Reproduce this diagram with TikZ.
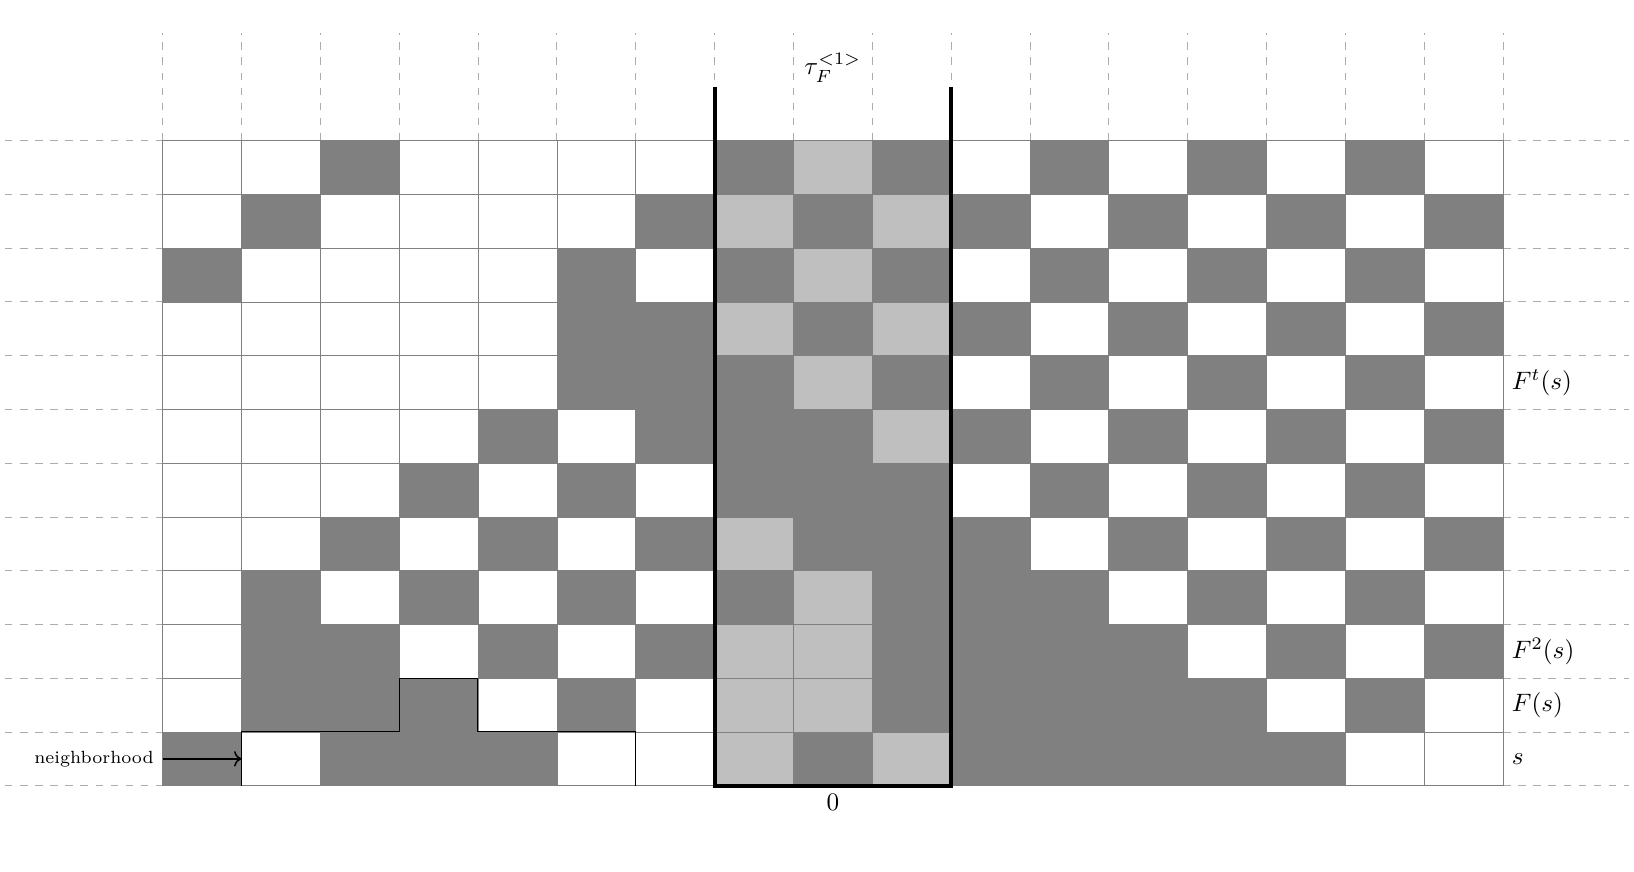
\documentclass[tikz,border=0pt]{standalone}
\usetikzlibrary{arrows.meta}
\colorlet{cell0}{white}
\colorlet{cell1}{gray}
\colorlet{cell2}{lightgray}
\tikzset{
  cellbox/.style={draw=gray, line width=0.25pt},
  guide/.style={draw=gray!65, dashed, line width=0.3pt},
  band/.style={black, line width=1.6pt},
  stair/.style={black, line width=0.4pt},
  lbl/.style={inner sep=3.33pt},
}
\begin{document}
\begin{tikzpicture}[x=1.1cm,y=0.75cm]
\useasboundingbox (-2.062,-1.587) rectangle (18.661,14.615);
% dashed guides
\foreach \j in {0,...,12} {
  \draw[guide] (-2,\j) -- (0,\j);
  \draw[guide] (17,\j) -- (18.6,\j);
}
\foreach \i in {0,...,17} \draw[guide] (\i,12) -- (\i,14);
% cells (bottom row first)
\foreach \row [count=\j from 0] in {
  {1,0,1,1,1,0,0,2,1,2,1,1,1,1,1,0,0},
  {0,1,1,1,0,1,0,2,2,1,1,1,1,1,0,1,0},
  {0,1,1,0,1,0,1,2,2,1,1,1,1,0,1,0,1},
  {0,1,0,1,0,1,0,1,2,1,1,1,0,1,0,1,0},
  {0,0,1,0,1,0,1,2,1,1,1,0,1,0,1,0,1},
  {0,0,0,1,0,1,0,1,1,1,0,1,0,1,0,1,0},
  {0,0,0,0,1,0,1,1,1,2,1,0,1,0,1,0,1},
  {0,0,0,0,0,1,1,1,2,1,0,1,0,1,0,1,0},
  {0,0,0,0,0,1,1,2,1,2,1,0,1,0,1,0,1},
  {1,0,0,0,0,1,0,1,2,1,0,1,0,1,0,1,0},
  {0,1,0,0,0,0,1,2,1,2,1,0,1,0,1,0,1},
  {0,0,1,0,0,0,0,1,2,1,0,1,0,1,0,1,0}} {
  \foreach \c [count=\i from 0] in \row {
    \filldraw[cellbox, fill=cell\c] (\i,\j) rectangle ++(1,1);
  }
}
% neighborhood outline
\draw[stair] (1,0) -- (1,1) -- (3,1) -- (3,2) -- (4,2) -- (4,1) -- (6,1) -- (6,0);
% thick band
\draw[band] (7,13) -- (7,0) -- (10,0) -- (10,13);
% labels
\node[lbl] (tau) at (8.5,13.35) {$\tau_F^{<1>}$};
\node[lbl, below] (zero) at (8.5,0) {$0$};
\node[lbl, right] (Ft) at (17,7.5) {$F^t(s)$};
\node[lbl, right] (F2) at (17,2.5) {$F^2(s)$};
\node[lbl, right] (F1) at (17,1.5) {$F(s)$};
\node[lbl, right] (s0) at (17,0.5) {$s$};
\coordinate (a0) at (0,0.5);
\coordinate (a1) at (1,0.5);
\node[lbl, left, font=\scriptsize] (nbh) at (a0) {neighborhood};
\draw[->, line width=0.6pt] (a0) -- (a1);
\end{tikzpicture}
\end{document}
